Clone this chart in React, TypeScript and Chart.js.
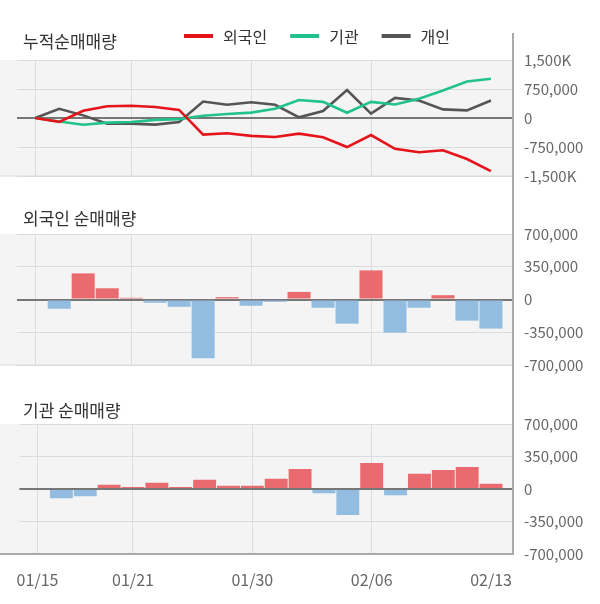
import React, { useEffect, useRef } from 'react';
import { Chart, registerables } from 'chart.js';

Chart.register(...registerables);

const FONT = "'Noto Sans CJK KR', 'Noto Sans', sans-serif";

// Trading days (category axis)
const dates = [
  '01/15', '01/16', '01/17', '01/20', '01/21', '01/22', '01/23', '01/28', '01/29', '01/30',
  '01/31', '02/03', '02/04', '02/05', '02/06', '02/07', '02/10', '02/11', '02/12', '02/13',
];
const tickIndexes = [0, 4, 9, 14, 19];
const gridIndexes = [0, 4, 9, 14];

// Cumulative net buying (shares)
const foreignCum = [0, -100000, 185000, 305000, 315000, 285000, 210000, -428000, -395000, -462000,
  -492000, -405000, -498000, -752000, -440000, -798000, -885000, -835000, -1060000, -1375000];
const instCum = [0, -92000, -173000, -120000, -105000, -48000, -28000, 57000, 104000, 140000,
  240000, 465000, 418000, 135000, 418000, 348000, 500000, 710000, 945000, 1015000];
const indivCum = [0, 239000, 68000, -145000, -145000, -170000, -102000, 426000, 341000, 409000,
  341000, 17000, 179000, 724000, 111000, 520000, 452000, 222000, 196000, 452000];

// Daily net buying (shares)
const foreignNet = [null, -99000, 279000, 120000, 18000, -35000, -78000, -629000, 25000, -67000,
  -25000, 81000, -88000, -258000, 311000, -354000, -88000, 46000, -226000, -311000];
const instNet = [null, -99000, -78000, 46000, 22000, 67000, 22000, 99000, 35000, 35000,
  110000, 216000, -46000, -279000, 279000, -67000, 163000, 205000, 237000, 57000];

// Y ticks
const cumTicks = [-1500000, -750000, 0, 750000, 1500000];
const cumTickLabels = ['-1,500K', '-750,000', '0', '750,000', '1,500K'];
const netTicks = [-700000, -350000, 0, 350000, 700000];
const netTickLabels = ['-700,000', '-350,000', '0', '350,000', '700,000'];

const seriesLabels = ['외국인', '기관', '개인'];
const seriesColors = ['#e5141b', '#22c38a', '#555555'];
const RED_BAR = '#ea6b6f';
const BLUE_BAR = '#92bde0';

const panelPlugin = {
  id: 'panel',
  beforeDraw(chart: any) {
    const { ctx, chartArea: a } = chart;
    ctx.save();
    ctx.fillStyle = '#f4f4f4';
    ctx.fillRect(0, a.top, a.right, a.bottom - a.top);
    ctx.restore();
  },
  afterDraw(chart: any, _args: any, opts: any) {
    const { ctx, chartArea: a } = chart;
    ctx.save();
    ctx.strokeStyle = opts.edgeColor || '#dcdcdc';
    ctx.lineWidth = opts.edgeWidth || 1;
    ctx.beginPath();
    ctx.moveTo(0, a.bottom);
    ctx.lineTo(a.right, a.bottom);
    ctx.stroke();
    ctx.strokeStyle = '#aaaaaa';
    ctx.lineWidth = 2;
    ctx.beginPath();
    const top = opts.lineTop ?? 0;
    const bottom = opts.lineToArea ? a.bottom + 1 : chart.height;
    ctx.moveTo(a.right, top);
    ctx.lineTo(a.right, bottom);
    ctx.stroke();
    ctx.restore();
  },
};

const legendPlugin = {
  id: 'lineLegend',
  afterDraw(chart: any, _args: any, opts: any) {
    const ctx = chart.ctx;
    ctx.save();
    ctx.font = `16px ${FONT}`;
    ctx.textBaseline = 'middle';
    let x = opts.x ?? 184;
    const y = opts.y ?? 36;
    chart.data.datasets.forEach((ds: any) => {
      ctx.fillStyle = ds.borderColor;
      ctx.fillRect(x, y - 2, 29, 4);
      ctx.fillStyle = '#333333';
      ctx.fillText(ds.label, x + 39, y + 1);
      x += 39 + ctx.measureText(ds.label).width + 23;
    });
    ctx.restore();
  },
};

function xScale(showLabels: boolean) {
  const s: any = {
    type: 'linear',
    min: -0.76,
    max: 19.92,
    offset: false,
    position: 'bottom',
    afterBuildTicks: (sc: any) => {
      sc.ticks = tickIndexes.map((v) => ({ value: v }));
    },
    grid: {
      offset: false,
      drawTicks: false,
      color: (c: any) => (c.tick && gridIndexes.includes(c.tick.value) ? '#dcdcdc' : 'rgba(0,0,0,0)'),
      lineWidth: 1,
    },
    border: { display: false },
    ticks: {
      display: showLabels,
      padding: 16,
      color: '#666666',
      font: { family: FONT, size: 16 },
      maxRotation: 0,
      autoSkip: false,
      callback: (v: any) => dates[v] ?? '',
    },
  };
  if (showLabels) s.afterFit = (sc: any) => { sc.height = 50; };
  return s;
}

function yScale(ticks: number[], labels: string[]) {
  return {
    type: 'linear',
    position: 'right',
    min: ticks[0],
    max: ticks[ticks.length - 1],
    afterBuildTicks: (sc: any) => {
      sc.ticks = ticks.map((v) => ({ value: v }));
    },
    grid: {
      drawTicks: false,
      color: (c: any) => (c.tick && c.tick.value === 0 ? '#777777' : '#dcdcdc'),
      lineWidth: (c: any) => (c.tick && c.tick.value === 0 ? 2 : 1),
    },
    border: { display: false },
    ticks: {
      padding: 11,
      color: '#666666',
      font: { family: FONT, size: 15 },
      callback: (v: any) => labels[ticks.indexOf(v)] ?? '',
    },
    afterFit: (sc: any) => { sc.width = 87; },
  } as any;
}

function barData(values: (number | null)[]) {
  return values
    .map((v, i) => (v == null ? null : { x: i, y: v }))
    .filter((p) => p !== null) as { x: number; y: number }[];
}

function barColor(c: any) {
  const y = c.raw && typeof c.raw.y === 'number' ? c.raw.y : 0;
  return y >= 0 ? RED_BAR : BLUE_BAR;
}

export default function App() {
  const refA = useRef<HTMLCanvasElement | null>(null);
  const refB = useRef<HTMLCanvasElement | null>(null);
  const refC = useRef<HTMLCanvasElement | null>(null);

  useEffect(() => {
    const common = {
      animation: false,
      responsive: false,
      devicePixelRatio: 1,
      events: [],
    };
    const cumSeries = [foreignCum, instCum, indivCum];
    const chartA = new Chart(refA.current as HTMLCanvasElement, {
      type: 'line',
      data: {
        datasets: cumSeries.map((arr, k) => ({
          label: seriesLabels[k],
          data: arr.map((v, i) => ({ x: i, y: v })),
          borderColor: seriesColors[k],
          backgroundColor: seriesColors[k],
          borderWidth: 2.6,
          pointRadius: 0,
          tension: 0,
          fill: false,
        })),
      },
      options: {
        ...common,
        layout: { padding: { left: 17, top: 60, bottom: 24, right: 0 } },
        scales: { x: xScale(false), y: yScale(cumTicks, cumTickLabels) },
        plugins: {
          legend: { display: false },
          tooltip: { enabled: false },
          panel: { lineTop: 33, lineToArea: false },
          lineLegend: { x: 184, y: 36 },
        } as any,
      } as any,
      plugins: [panelPlugin, legendPlugin],
    } as any);

    const barOptions = (lineToArea: boolean, showLabels: boolean, bottomPad: number, extra: any) => ({
      ...common,
      layout: { padding: { left: 17, top: 34, bottom: bottomPad, right: 0 } },
      scales: { x: xScale(showLabels), y: yScale(netTicks, netTickLabels) },
      plugins: {
        legend: { display: false },
        tooltip: { enabled: false },
        panel: { lineTop: 0, lineToArea, ...extra },
      },
    });

    const chartB = new Chart(refB.current as HTMLCanvasElement, {
      type: 'bar',
      data: {
        datasets: [{
          label: '외국인',
          data: barData(foreignNet),
          backgroundColor: barColor,
          borderWidth: 0,
          barPercentage: 0.96,
          categoryPercentage: 1,
        }],
      },
      options: barOptions(false, false, 25, {}) as any,
      plugins: [panelPlugin],
    } as any);

    const chartC = new Chart(refC.current as HTMLCanvasElement, {
      type: 'bar',
      data: {
        datasets: [{
          label: '기관',
          data: barData(instNet),
          backgroundColor: barColor,
          borderWidth: 0,
          barPercentage: 0.96,
          categoryPercentage: 1,
        }],
      },
      options: barOptions(true, true, 0, { edgeColor: '#aaaaaa', edgeWidth: 2 }) as any,
      plugins: [panelPlugin],
    } as any);

    return () => {
      chartA.destroy();
      chartB.destroy();
      chartC.destroy();
    };
  }, []);

  const titleStyle = (top: number): React.CSSProperties => ({
    position: 'absolute',
    left: 23,
    top,
    fontFamily: FONT,
    fontSize: 17,
    lineHeight: '20px',
    color: '#333333',
    whiteSpace: 'nowrap',
  });

  return (
    <div style={{ position: 'absolute', left: 0, top: 0, width: 600, height: 604, background: '#ffffff', overflow: 'hidden' }}>
      <canvas ref={refA} width={600} height={200} style={{ position: 'absolute', left: 0, top: 0, width: 600, height: 200 }} />
      <canvas ref={refB} width={600} height={190} style={{ position: 'absolute', left: 0, top: 200, width: 600, height: 190 }} />
      <canvas ref={refC} width={600} height={214} style={{ position: 'absolute', left: 0, top: 390, width: 600, height: 214 }} />
      <div style={titleStyle(31)}>누적순매매량</div>
      <div style={titleStyle(208)}>외국인 순매매량</div>
      <div style={titleStyle(400)}>기관 순매매량</div>
    </div>
  );
}
